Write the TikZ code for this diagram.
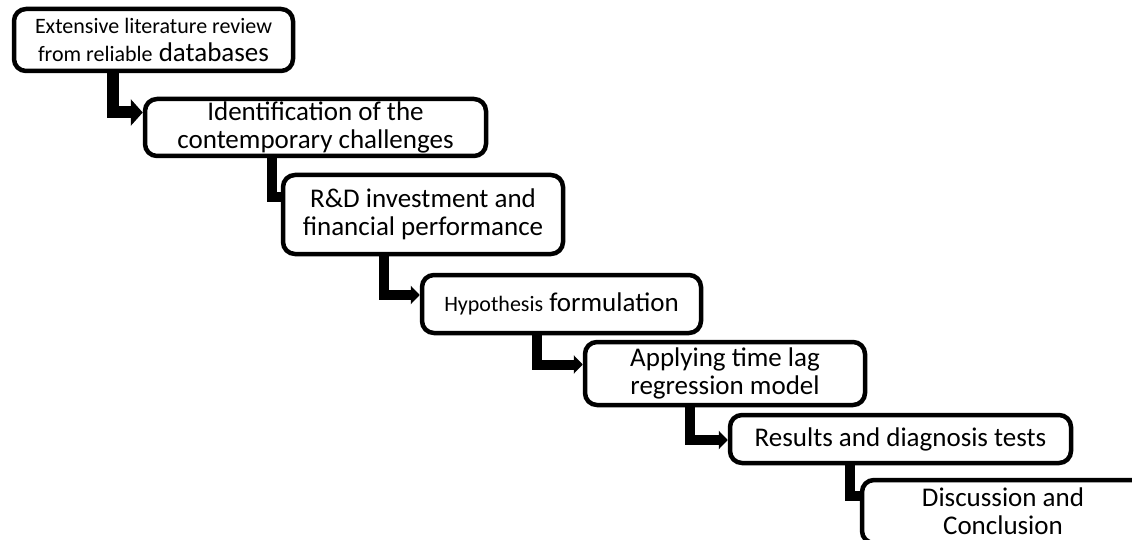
\documentclass[tikz,border=0pt]{standalone}
\usepackage{fontspec}
\setmainfont{Carlito}
\usetikzlibrary{arrows.meta,backgrounds}
\newcommand\smtxt{\fontsize{22}{28}\selectfont}
\begin{document}
\begin{tikzpicture}[x=1pt,y=-1pt,
  box/.style={draw, line width=4.5pt, rounded corners=12pt, fill=white,
    align=center, inner sep=0pt, font=\fontsize{27}{28}\selectfont},
  plainconn/.style={line width=10pt, line join=miter},
  conn/.style={plainconn, -{Triangle[length=9pt,width=18pt]}},
  bigconn/.style={line width=12pt, line join=miter,
    -{Triangle[length=12pt,width=26pt]}}]
\useasboundingbox (0,0) rectangle (1132,540);
\clip (0,0) rectangle (1132,540);
\node[box, minimum width=279pt, minimum height=62pt] (b1) at (153.5,40)
  {{\smtxt Extensive literature review}\\{\smtxt from reliable} databases};
\node[box, minimum width=341pt, minimum height=57pt] (b2) at (315.5,127.5)
  {Identification of the\\contemporary challenges};
\node[box, minimum width=280pt, minimum height=79pt] (b3) at (423,214.5)
  {R\&D investment and\\financial performance};
\node[box, minimum width=279pt, minimum height=58pt] (b4) at (561.5,304)
  {{\smtxt Hypothesis} formulation};
\node[box, minimum width=280pt, minimum height=63pt] (b5) at (725,373.5)
  {Applying time lag\\regression model};
\node[box, minimum width=341pt, minimum height=48pt] (b6) at (900.5,439)
  {Results and diagnosis tests};
\node[box, minimum width=282pt, minimum height=63pt] (b7) at (1003,511.5)
  {Discussion and\\Conclusion};
\begin{scope}[on background layer]
\fill[white] (0,0) rectangle (1132,540);
\draw[bigconn] ([xshift=101pt]b1.south west) |- ([yshift=15pt]b2.west);
\draw[plainconn] ([xshift=129pt]b2.south west) |- ([yshift=17.5pt]b3.west);
\draw[conn] ([xshift=103pt]b3.south west) |- ([yshift=9pt]b4.west);
\draw[conn] ([xshift=117pt]b4.south west) |- ([yshift=9pt]b5.west);
\draw[conn] ([xshift=107pt]b5.south west) |- ([yshift=-1pt]b6.west);
\draw[plainconn] ([xshift=122pt]b6.south west) |- ([yshift=16pt]b7.west);
\end{scope}
\end{tikzpicture}
\end{document}
